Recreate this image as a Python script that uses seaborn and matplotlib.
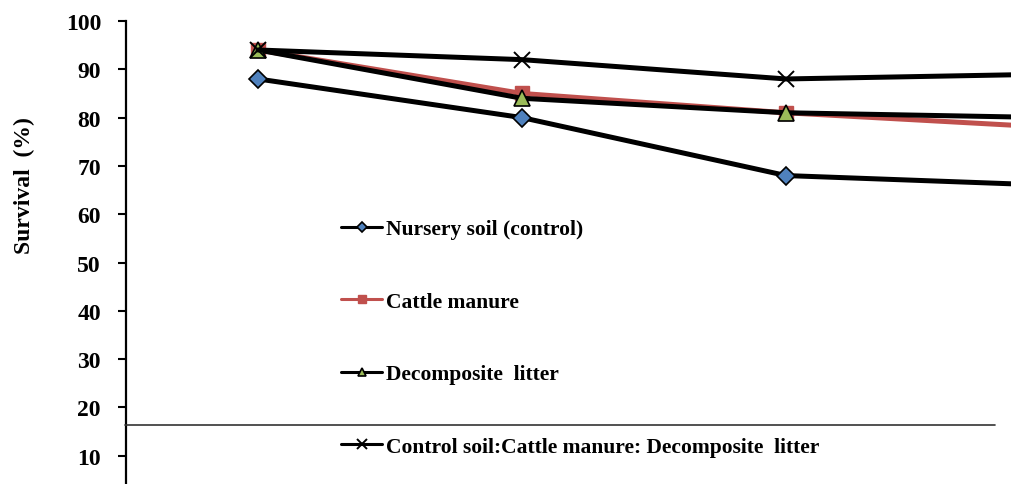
import matplotlib
matplotlib.use('Agg')
import matplotlib.pyplot as plt
import seaborn as sns
import pandas as pd
from matplotlib.lines import Line2D

# Data (4th time point lies past the right edge)
time_points = [1, 2, 3, 4]
nursery_soil = [88, 80, 68, 66]
cattle_manure = [94, 85, 81, 78]
decomposite_litter = [94, 84, 81, 80]
mixture = [94, 92, 88, 89]

series_names = ['Nursery soil (control)', 'Cattle manure',
                'Decomposite  litter',
                'Control soil:Cattle manure: Decomposite  litter']
series_values = [nursery_soil, cattle_manure, decomposite_litter, mixture]

y_ticks = [10, 20, 30, 40, 50, 60, 70, 80, 90, 100]

sns.set_style('white')
plt.rcParams['font.family'] = ['Liberation Serif', 'DejaVu Serif']
plt.rcParams['font.weight'] = 'bold'
plt.rcParams['text.color'] = 'black'
plt.rcParams['axes.labelcolor'] = 'black'
plt.rcParams['ytick.color'] = 'black'

styles = [
    dict(color='black', marker='D', markersize=9, markerfacecolor='#4F81BD',
         markeredgecolor='black', markeredgewidth=1.2),
    dict(color='#C0504D', marker='s', markersize=10, markerfacecolor='#C0504D',
         markeredgecolor='#C0504D', markeredgewidth=1.0),
    dict(color='black', marker='^', markersize=11, markerfacecolor='#9BBB59',
         markeredgecolor='black', markeredgewidth=1.2),
    dict(color='black', marker='x', markersize=12, markeredgecolor='black',
         markeredgewidth=1.4),
]

fig = plt.figure(figsize=(10.11, 4.85), dpi=100)
# axes deliberately runs past the right and bottom edges (cropped chart)
ax = fig.add_axes([126 / 1011, 1 - 505 / 485, 1056 / 1011, 483 / 485])

for name, vals, st in zip(series_names, series_values, styles):
    df = pd.DataFrame({'time': time_points, 'survival': vals})
    sns.lineplot(data=df, x='time', y='survival', ax=ax, label=name,
                 linewidth=3.6, **st)

ax.set_xlim(0.5, 4.5)
ax.set_ylim(0, 100)
ax.set_yticks(y_ticks)
ax.set_xticks([])
ax.set_xlabel('')
ax.set_ylabel('Survival  (%)', fontsize=17, fontweight='bold')
# label sits higher than the axis centre in the original
ax.yaxis.set_label_coords(-91 / 1056, (505 - 186) / 483)
ax.tick_params(axis='y', direction='out', length=6, width=1.5, pad=12,
               labelsize=17, left=True, colors='black')
for lbl in ax.get_yticklabels():
    lbl.set_fontweight('bold')
for side in ['top', 'right', 'bottom']:
    ax.spines[side].set_visible(False)
ax.spines['left'].set_linewidth(1.6)
ax.spines['left'].set_color('black')

# thin horizontal rule crossing the plot near the bottom
fig.add_artist(Line2D([125 / 1011, 995 / 1011], [1 - 426 / 485] * 2,
                      color='#333333', linewidth=1.2))

leg = ax.legend(loc='upper left', bbox_to_anchor=(322 / 1011, 1 - 201 / 485),
                bbox_transform=fig.transFigure, frameon=False,
                prop={'size': 15.5, 'weight': 'bold'}, labelspacing=2.43,
                handlelength=1.9, handletextpad=0.19)
for h, st in zip(leg.legend_handles, styles):
    h.set_linewidth(2.2)
    h.set_markersize(5.5 if st['marker'] != 'x' else 7)

fig.savefig('out.png', dpi=100)
